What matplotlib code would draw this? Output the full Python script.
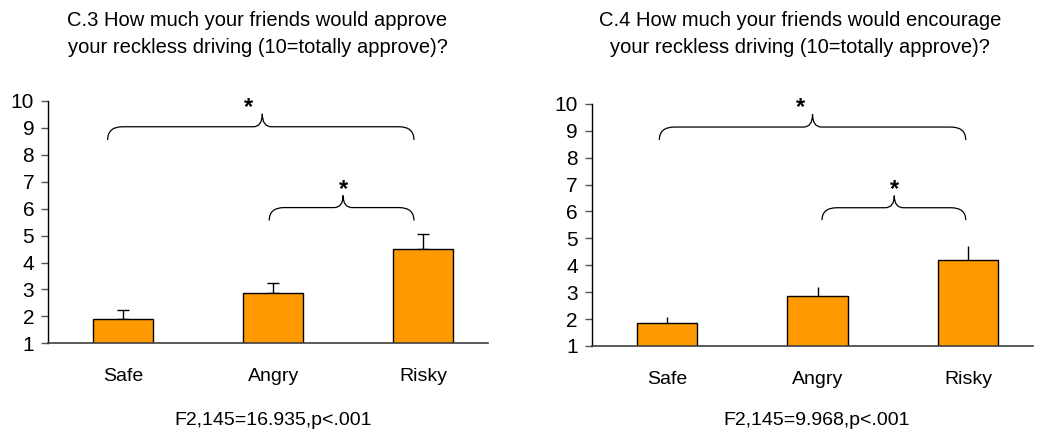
import matplotlib
matplotlib.use("Agg")

import matplotlib.pyplot as plt
from matplotlib.path import Path
from matplotlib.patches import PathPatch

plt.rcParams["font.family"] = ["Liberation Sans", "DejaVu Sans"]

# -- Data --
CATEGORIES = ["Safe", "Angry", "Risky"]

C3_MEANS = [1.89, 2.86, 4.50]
C3_ERRORS = [0.35, 0.37, 0.57]
C3_TITLE = "C.3 How much your friends would approve\nyour reckless driving (10=totally approve)?"
C3_STATS = "F2,145=16.935,p<.001"

C4_MEANS = [1.87, 2.86, 4.20]
C4_ERRORS = [0.22, 0.32, 0.53]
C4_TITLE = "C.4 How much your friends would encourage\nyour reckless driving (10=totally approve)?"
C4_STATS = "F2,145=9.968,p<.001"

BAR_COLOR = "#FF9900"


def draw_brace(ax, x0, x1, xtip, y_end, y_line, y_tip, rx=0.1, rtip=0.06):
    verts = [
        (x0, y_end), (x0, y_line), (x0 + rx, y_line),
        (xtip - rtip, y_line),
        (xtip, y_line), (xtip, y_tip),
        (xtip, y_line), (xtip + rtip, y_line),
        (x1 - rx, y_line),
        (x1, y_line), (x1, y_end),
    ]
    codes = [
        Path.MOVETO, Path.CURVE3, Path.CURVE3,
        Path.LINETO,
        Path.CURVE3, Path.CURVE3,
        Path.CURVE3, Path.CURVE3,
        Path.LINETO,
        Path.CURVE3, Path.CURVE3,
    ]
    ax.add_patch(PathPatch(Path(verts, codes), fill=False, lw=0.9,
                           edgecolor="black", clip_on=False))


def draw_panel(ax, means, errors, capsize, braces, stars):
    x = range(len(CATEGORIES))
    ax.bar(x, means, width=0.4, bottom=0, color=BAR_COLOR,
           edgecolor="black", linewidth=1.0, zorder=2)
    ax.errorbar(x, means, yerr=[[0] * len(errors), errors], fmt="none",
                ecolor="black", elinewidth=1.0, capsize=capsize,
                capthick=1.0, zorder=1)

    ax.set_xlim(-0.5, 2.43)
    ax.set_ylim(1, 10)
    ax.set_yticks(range(1, 11))
    ax.set_xticks(list(x))
    ax.set_xticklabels(CATEGORIES)
    ax.tick_params(axis="x", length=0, pad=18, labelsize=14)
    ax.tick_params(axis="y", length=5, width=1, pad=5, labelsize=15,
                   color="#555555")
    for side in ("top", "right"):
        ax.spines[side].set_visible(False)
    ax.spines["left"].set_color("black")
    ax.spines["bottom"].set_color("#404040")
    ax.spines["left"].set_linewidth(1.0)
    ax.spines["bottom"].set_linewidth(1.2)

    for b in braces:
        draw_brace(ax, *b)
    for sx, sy in stars:
        ax.text(sx, sy, "*", fontsize=17, ha="center", va="center",
                fontweight="bold")


fig = plt.figure(figsize=(10.4, 4.33), dpi=100)

ax1 = fig.add_axes([0.0462, 0.207, 0.423, 0.560])
draw_panel(ax1, C3_MEANS, C3_ERRORS, 4,
           braces=[(-0.103, 1.937, 0.927, 8.55, 9.04, 9.52),
                   (0.973, 1.937, 1.465, 5.56, 6.04, 6.49)],
           stars=[(0.834, 9.75), (1.465, 6.70)])

ax2 = fig.add_axes([0.569, 0.201, 0.424, 0.559])
draw_panel(ax2, C4_MEANS, C4_ERRORS, 0,
           braces=[(-0.051, 1.985, 0.967, 8.66, 9.14, 9.61),
                   (1.03, 1.985, 1.51, 5.68, 6.14, 6.59)],
           stars=[(0.885, 9.85), (1.51, 6.80)])

fig.text(0.2476, 0.922, C3_TITLE, ha="center", va="center", fontsize=14.5,
         linespacing=1.55)
fig.text(0.769, 0.922, C4_TITLE, ha="center", va="center", fontsize=14.5,
         linespacing=1.55)
fig.text(0.2625, 0.030, C3_STATS, ha="center", va="center", fontsize=14)
fig.text(0.785, 0.028, C4_STATS, ha="center", va="center", fontsize=14)

fig.savefig("out.png", dpi=100)
